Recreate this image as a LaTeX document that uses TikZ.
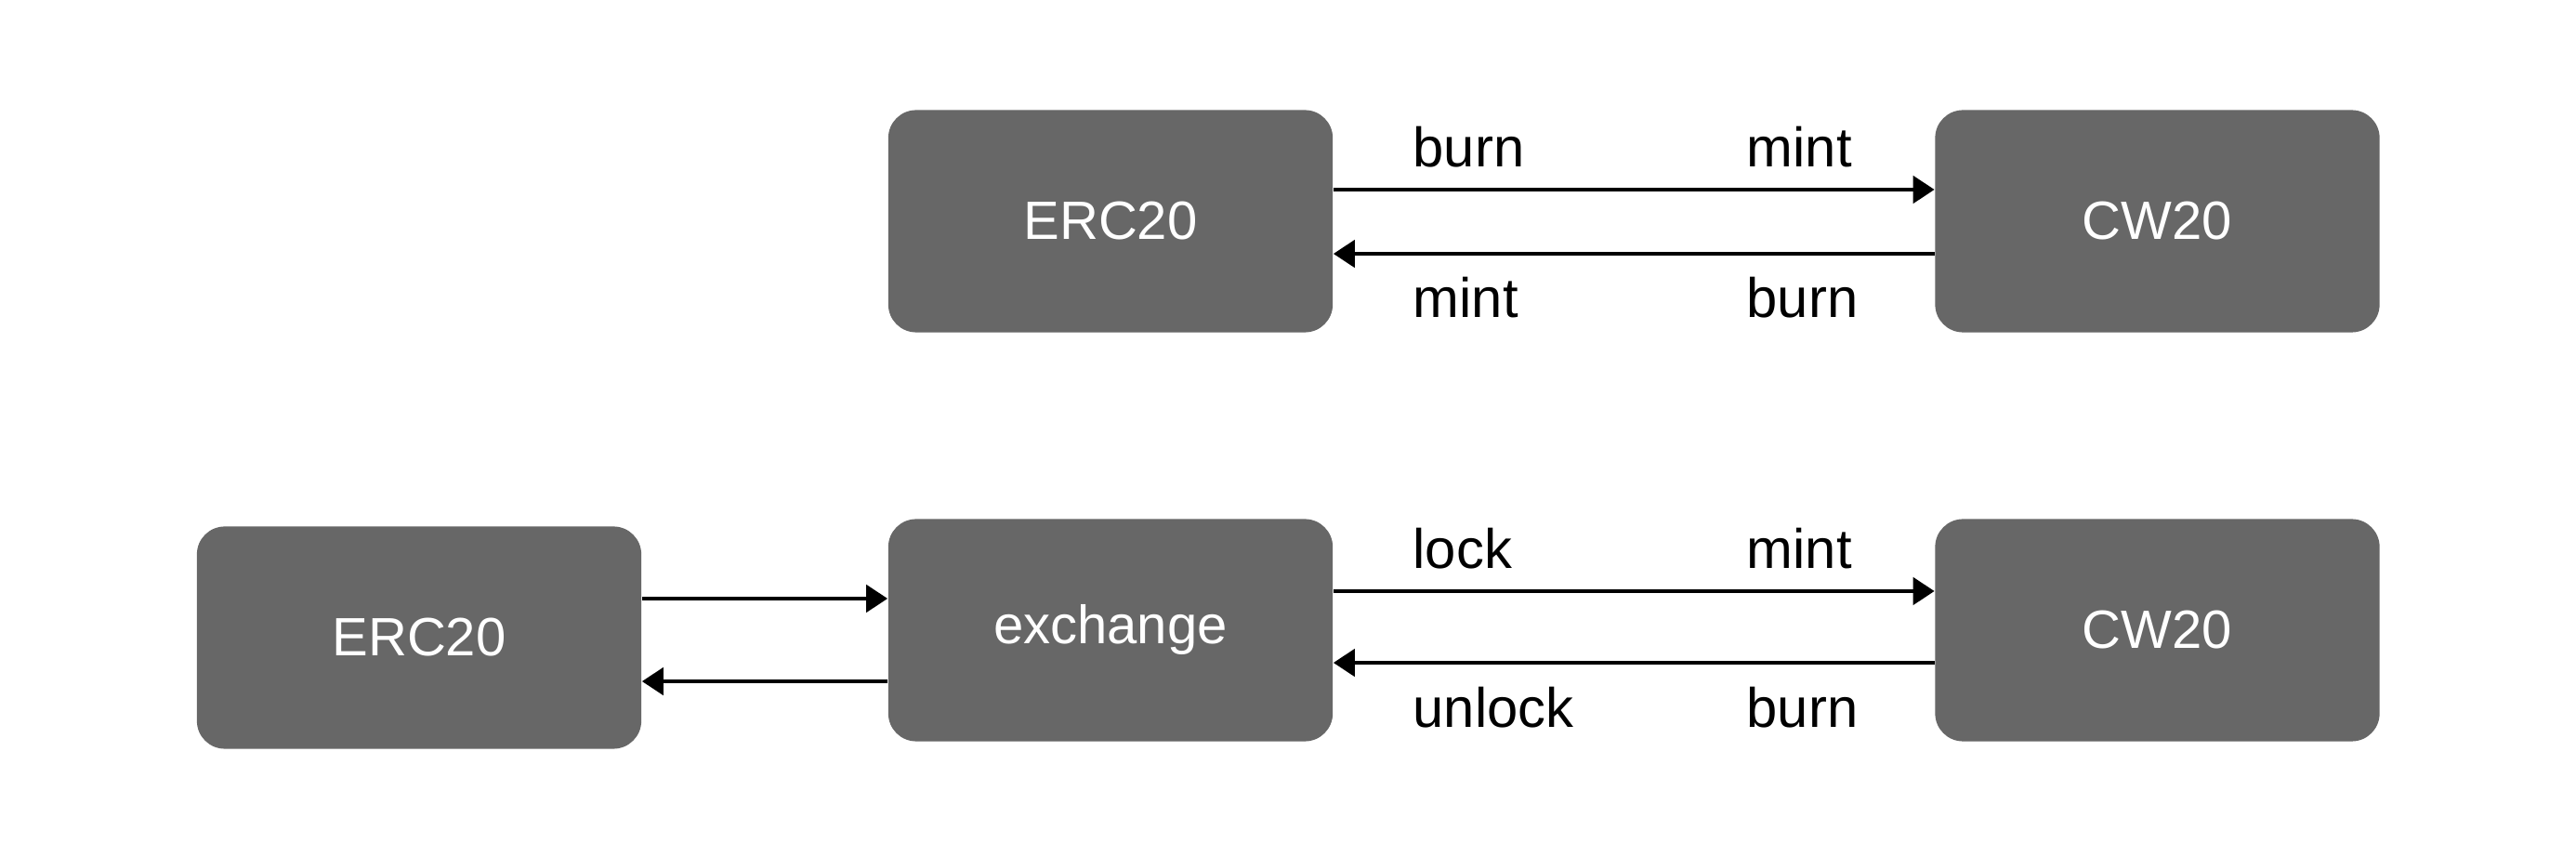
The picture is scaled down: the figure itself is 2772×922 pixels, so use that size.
\documentclass[tikz,border=0pt]{standalone}
\usepackage{fontspec}
\setmainfont{Liberation Sans}
\usetikzlibrary{arrows.meta}
\definecolor{boxgray}{HTML}{676767}
\tikzset{
  tokbox/.style={fill=boxgray, draw=none, rounded corners=0.3cm, minimum width=4.78cm, minimum height=2.39cm, inner sep=0pt, text=white, font=\fontsize{16.5}{20}\selectfont},
  flow/.style={line width=1.3pt, -{Triangle[length=0.23cm,width=0.29cm]}},
  lbl/.style={anchor=base west, inner sep=0pt, font=\fontsize{17}{20}\selectfont}
}
\begin{document}
\begin{tikzpicture}[x=0.01cm,y=-0.01cm]
\useasboundingbox (0,0) rectangle (2772,922);
% top row
\node[tokbox] (erctop) at (1195,238) {ERC20};
\node[tokbox] (cwtop) at (2321.5,238) {CW20};
\draw[flow] ([yshift=0.34cm]erctop.east) -- ([yshift=0.34cm]cwtop.west);
\draw[flow] ([yshift=-0.35cm]cwtop.west) -- ([yshift=-0.35cm]erctop.east);
\node[lbl] (l1) at (1520,180) {burn};
\node[lbl] (l2) at (1879,180) {mint};
\node[lbl] (l3) at (1520,342) {mint};
\node[lbl] (l4) at (1879,342) {burn};
% bottom row
\node[tokbox] (ercbot) at (451,686) {ERC20};
\node[tokbox] (exch) at (1195,678) {exchange};
\node[tokbox] (cwbot) at (2321.5,678) {CW20};
\draw[flow] ([yshift=0.42cm]exch.east) -- ([yshift=0.42cm]cwbot.west);
\draw[flow] ([yshift=-0.35cm]cwbot.west) -- ([yshift=-0.35cm]exch.east);
\coordinate (a1) at ([yshift=0.42cm]ercbot.east);
\coordinate (a2) at ([yshift=-0.47cm]ercbot.east);
\draw[flow] (a1) -- (a1 -| exch.west);
\draw[flow] (a2 -| exch.west) -- (a2);
\node[lbl] (l5) at (1520,612) {lock};
\node[lbl] (l6) at (1879,612) {mint};
\node[lbl] (l7) at (1520,783) {unlock};
\node[lbl] (l8) at (1879,783) {burn};
\end{tikzpicture}
\end{document}
